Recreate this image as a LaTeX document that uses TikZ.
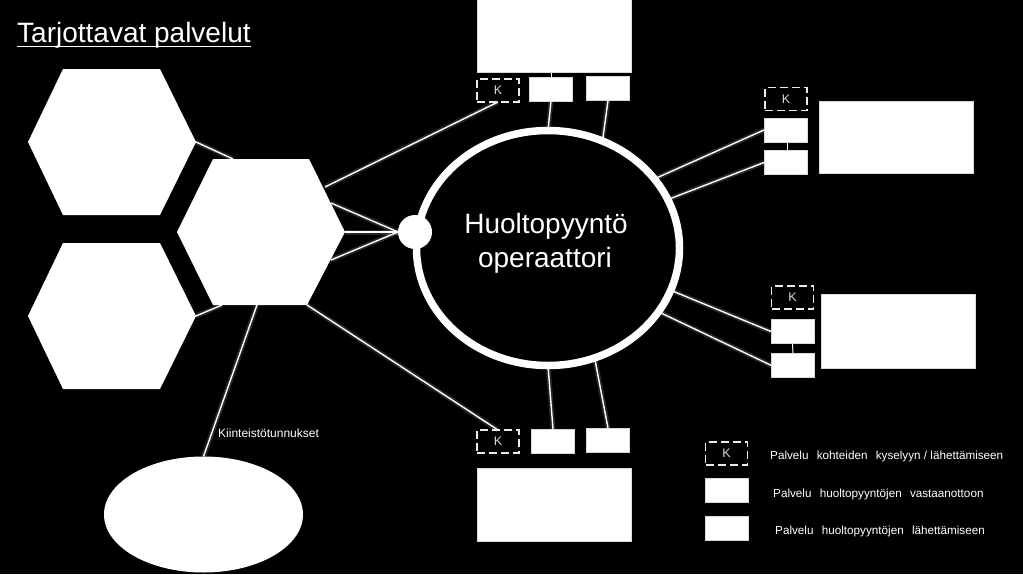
\documentclass[tikz,border=0pt]{standalone}
\usepackage{fontspec}
\setmainfont{Liberation Sans}
\usetikzlibrary{shapes.geometric}
\pgfdeclarelayer{back}
\pgfdeclarelayer{bg}
\pgfsetlayers{back,bg,main}
\begin{document}
\begin{tikzpicture}[x=1pt,y=-1pt,
  wbox/.style={draw=white!85!black, fill=white, line width=0.5pt, minimum width=43pt, minimum height=24pt, inner sep=0pt, outer sep=0pt},
  bigbox/.style={wbox, minimum width=154pt, minimum height=73pt},
  kbox/.style={draw=white!92!black, line width=1.3pt, dash pattern=on 8pt off 4pt, minimum width=42pt, minimum height=23pt, inner sep=0pt, outer sep=0pt, text=white!85!black, font=\fontsize{12.5}{14}\selectfont},
  link/.style={draw=white, line width=1.4pt, preaction={draw=white, opacity=0.15, line width=5pt}},
  tinylink/.style={draw=white, line width=1pt},
  hexa/.style={fill=white},
  legtext/.style={text=white, anchor=base west, font=\fontsize{11.7}{13}\selectfont, inner sep=0pt}
]
\begin{pgfonlayer}{back}
\fill[black] (0,0) rectangle (1023,574);
\end{pgfonlayer}
\useasboundingbox (0,0) rectangle (1023,574);

% title
\node[anchor=base west, text=white, font=\fontsize{28}{33}\selectfont, inner sep=0pt] (title) at (17,42.5) {Tarjottavat palvelut};
\draw[white, line width=1.8pt] ([yshift=-4pt]title.base west) -- ([yshift=-4pt]title.base east);

% hexagons
\coordinate (h1L) at (28,142);  \coordinate (h1TL) at (63,69);  \coordinate (h1TR) at (160,69);
\coordinate (h1R) at (196,142); \coordinate (h1BR) at (160,215); \coordinate (h1BL) at (63,215);
\coordinate (h2L) at (28,316);  \coordinate (h2TL) at (63,243);  \coordinate (h2TR) at (160,243);
\coordinate (h2R) at (196,316); \coordinate (h2BR) at (160,389); \coordinate (h2BL) at (63,389);
\coordinate (h3L) at (177,232); \coordinate (h3TL) at (213,159); \coordinate (h3TR) at (309,159);
\coordinate (h3R) at (345,232); \coordinate (h3BR) at (307,305); \coordinate (h3BL) at (213,305);
\fill[hexa] (h1L) -- (h1TL) -- (h1TR) -- (h1R) -- (h1BR) -- (h1BL) -- cycle;
\fill[hexa] (h2L) -- (h2TL) -- (h2TR) -- (h2R) -- (h2BR) -- (h2BL) -- cycle;
\fill[hexa] (h3L) -- (h3TL) -- (h3TR) -- (h3R) -- (h3BR) -- (h3BL) -- cycle;
\coordinate (h3a) at (233,159);
\coordinate (h3b) at (222,305);
\coordinate (h3c) at (325,187);
\coordinate (h3d) at (331,203);
\coordinate (h3e) at (331,260);
\coordinate (h3f) at (257,305);

% central operator
\node[ellipse, draw=white, line width=7.5pt, fill=black, minimum width=263pt, minimum height=235pt, inner sep=0pt, outer sep=0pt] (op) at (548,248) {};
\node[anchor=base, text=white, font=\fontsize{28}{34}\selectfont, inner sep=0pt] (opt1) at (546,233) {Huoltopyyntö};
\node[anchor=base, text=white, font=\fontsize{28}{34}\selectfont, inner sep=0pt] (opt2) at (545,267) {operaattori};
\node[circle, fill=white, minimum size=34pt, inner sep=0pt, outer sep=0pt] (sc) at (415,232) {};

% property ellipse
\node[ellipse, fill=white, minimum width=199pt, minimum height=116pt, inner sep=0pt, outer sep=0pt] (kel) at (203.5,514.5) {};
\node[anchor=base west, text=white, font=\fontsize{12}{14}\selectfont, inner sep=0pt] (ktl) at (218,437) {Kiinteistötunnukset};

% top group
\node[bigbox] (topbig) at (554,36) {};
\node[kbox] (tk) at (498,90.5) {K};
\node[wbox] (t1) at (551,89) {};
\node[wbox] (t2) at (608,88.5) {};

% right top group
\node[kbox] (rtk) at (786,99) {K};
\node[wbox] (rta) at (785.5,130) {};
\node[wbox] (rtb) at (785.5,162.5) {};
\node[bigbox, minimum height=72pt] (rtbig) at (896,137) {};

% right lower group
\node[kbox] (rlk) at (792.5,297.5) {K};
\node[wbox] (rla) at (792.5,331.5) {};
\node[wbox] (rlb) at (793,365.5) {};
\node[bigbox, minimum height=74pt] (rlbig) at (898,331) {};

% bottom group
\node[kbox] (bk) at (498,441.5) {K};
\node[wbox] (b1) at (553,441) {};
\node[wbox] (b2) at (608,440) {};
\node[bigbox] (bbig) at (554,504.5) {};

% legend
\node[kbox] (lk) at (726.5,453.5) {K};
\node[wbox] (l1) at (726.5,490.5) {};
\node[wbox] (l2) at (726.5,528.5) {};
\node[legtext] (lt1) at (770,459.5) {Palvelu\hspace{5pt} kohteiden\hspace{5pt} kyselyyn / lähettämiseen};
\node[legtext] (lt2) at (773,497) {Palvelu\hspace{5pt} huoltopyyntöjen\hspace{5pt} vastaanottoon};
\node[legtext] (lt3) at (775,534.5) {Palvelu\hspace{5pt} huoltopyyntöjen\hspace{5pt} lähettämiseen};

% connectors
\begin{pgfonlayer}{bg}
\draw[link] (h1R) -- (h3a);
\draw[link] (h2R) -- (h3b);
\draw[link] (h3d) -- (sc.west);
\draw[link] (h3R) -- (sc.west);
\draw[link] (h3e) -- (sc.west);
\draw[link] (h3c) -- (tk.south);
\draw[link] (h3BR) -- (bk.north);
\draw[link] (h3f) -- (kel.north);
\draw[link] (op.90) -- (t1.south);
\draw[link] (op.63) -- (t2.south);
\draw[link] (op.33.6) -- (rta.west);
\draw[link] (op.22) -- (rtb.west);
\draw[link] (op.-19.5) -- (rla.west);
\draw[link] (op.-30.4) -- (rlb.west);
\draw[link] (op.-90) -- (b1.north);
\draw[link] (op.-67) -- (b2.north);
\draw[tinylink] (t1.north) -- (t1.north |- topbig.south);
\draw[tinylink] ([xshift=2pt]rta.south) -- ([xshift=2pt]rtb.north);
\draw[tinylink] (rla.south) -- (rlb.north);
\end{pgfonlayer}
\end{tikzpicture}
\end{document}
